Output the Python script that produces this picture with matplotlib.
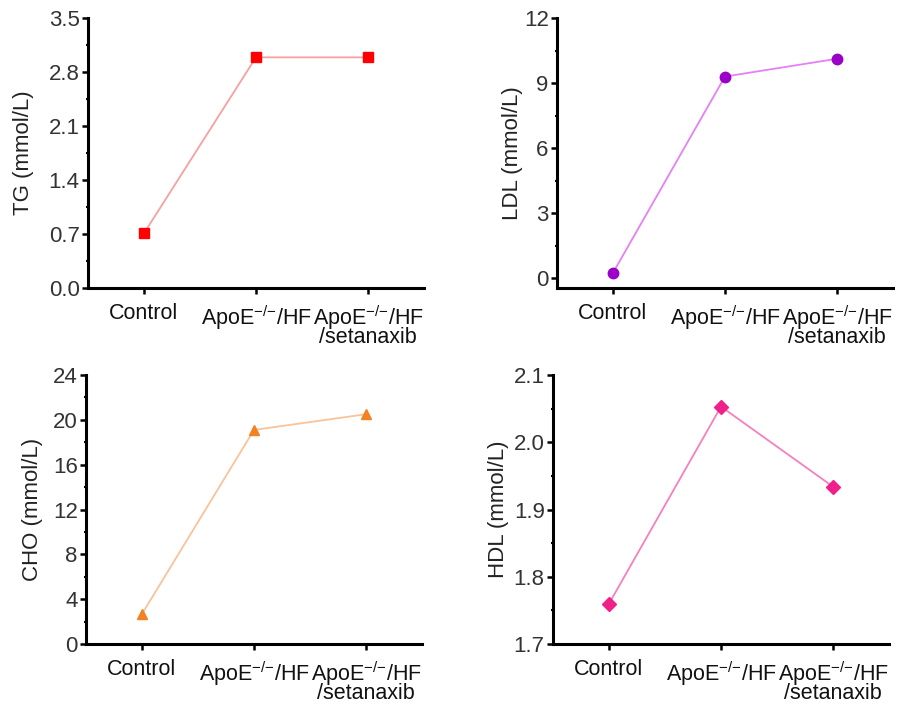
import numpy as np
import matplotlib
matplotlib.use('Agg')
import matplotlib.pyplot as plt
from matplotlib.ticker import MultipleLocator

plt.rcParams['font.family'] = ['Liberation Sans', 'DejaVu Sans']
plt.rcParams['mathtext.fontset'] = 'custom'
plt.rcParams['mathtext.rm'] = 'Liberation Sans'

sup = '$^{\\mathregular{{-}/{-}}}$'
groups = ['Control', 'ApoE' + sup + '/HF', 'ApoE' + sup + '/HF\n/setanaxib']

tg = [0.71, 2.99, 2.99]
ldl = [0.25, 9.30, 10.12]
cho = [2.68, 19.1, 20.5]
hdl = [1.760, 2.053, 1.934]

fig = plt.figure(figsize=(9.04, 7.04), dpi=100)

# (values, ylabel, ylim, major step, minor step, marker, marker colour, line colour, fmt, rect, label x)
panels = [
    (tg, 'TG (mmol/L)', (0, 3.5), 0.7, 0.35, 's', '#ff0000', '#f7a0a0', '%.1f',
     [88/904, 1-288/704, 336/904, 270/704], -0.16),
    (ldl, 'LDL (mmol/L)', (-0.45, 12), 3, 1.5, 'o', '#9a00c8', '#e580f5', '%d',
     [557/904, 1-288/704, 336/904, 270/704], -0.10),
    (cho, 'CHO (mmol/L)', (0, 24), 4, 2, '^', '#f28222', '#f9c39a', '%d',
     [86/904, 1-644/704, 336/904, 269/704], -0.128),
    (hdl, 'HDL (mmol/L)', (1.7, 2.1), 0.1, 0.05, 'D', '#f0208a', '#f680bd', '%.1f',
     [553/904, 1-644/704, 336/904, 269/704], -0.131),
]

x = np.arange(len(groups))

for vals, lab, ylim, step, mstep, mk, mc, lc, fmt, rect, lx in panels:
    ax = fig.add_axes(rect)
    ax.plot(x, vals, color=lc, lw=1.3, zorder=2)
    ms = 7.5 if mk != 'D' else 7
    ax.plot(x, vals, linestyle='none', marker=mk, ms=ms, color=mc, zorder=3, clip_on=False)
    ax.set_xlim(-0.5, 2.5)
    ax.set_ylim(*ylim)
    lo = 0 if ylim[0] < 0 else ylim[0]
    ticks = np.arange(lo, ylim[1] + step / 2, step)
    ax.set_yticks(ticks)
    ax.set_yticklabels([fmt % t for t in ticks])
    ax.yaxis.set_minor_locator(MultipleLocator(mstep))
    ax.set_xticks(x)
    ax.set_xticklabels(groups, fontsize=15.5, color='#111111', linespacing=0.72)
    ax.set_ylabel(lab, fontsize=16, color='#222222')
    ax.yaxis.set_label_coords(lx, 0.5)
    for s in ['top', 'right']:
        ax.spines[s].set_visible(False)
    for s in ['left', 'bottom']:
        ax.spines[s].set_linewidth(2.2)
    ax.tick_params(axis='y', which='major', direction='out', length=4, width=1.8,
                   labelsize=16, labelcolor='#333333', pad=2)
    ax.tick_params(axis='y', which='minor', direction='inout', length=3, width=1.5)
    ax.tick_params(axis='x', direction='out', length=4, width=1.8, pad=7)

plt.savefig('out.png', dpi=100)
